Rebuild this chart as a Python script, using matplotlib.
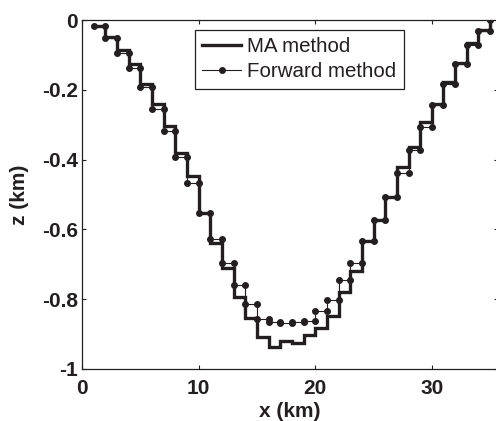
import numpy as np
import matplotlib
matplotlib.use("Agg")
import matplotlib.pyplot as plt

plt.rcParams['font.family'] = ['Liberation Sans', 'DejaVu Sans']
plt.rcParams['axes.unicode_minus'] = False

# prism left edges (km), each prism 1 km wide
prism_left = list(range(1, 35))
# depths (km)
z_forward = [-0.016, -0.052, -0.094, -0.138, -0.193, -0.254, -0.319, -0.392, -0.468,
             -0.552, -0.628, -0.697, -0.760, -0.813, -0.857, -0.864, -0.868, -0.866,
             -0.862, -0.835, -0.801, -0.746, -0.697, -0.633, -0.572, -0.506, -0.437,
             -0.372, -0.306, -0.244, -0.183, -0.127, -0.072, -0.031]
z_ma = [-0.016, -0.048, -0.086, -0.126, -0.183, -0.242, -0.303, -0.380, -0.446,
        -0.552, -0.638, -0.710, -0.793, -0.855, -0.908, -0.936, -0.921, -0.925,
        -0.904, -0.883, -0.848, -0.778, -0.720, -0.633, -0.573, -0.506, -0.420,
        -0.363, -0.291, -0.241, -0.177, -0.124, -0.067, -0.029]
end_x, end_z = 35, 0.0

xticks = [0, 10, 20, 30]
yticks = [0, -0.2, -0.4, -0.6, -0.8, -1]
ytick_labels = ['0', '-0.2', '-0.4', '-0.6', '-0.8', '-1']


def steps(left, z):
    left = np.asarray(left, float)
    xs = np.column_stack([left, left + 1]).ravel()
    zs = np.repeat(np.asarray(z, float), 2)
    xs = np.append(xs, end_x)
    zs = np.append(zs, end_z)
    return xs, zs


col = '#231f20'
fig = plt.figure(figsize=(4.96, 4.21), dpi=100)
ax = fig.add_axes([82 / 496, 52 / 421, (498.3 - 82) / 496, 349 / 421])

xm, zm = steps(prism_left, z_ma)
xf, zf = steps(prism_left, z_forward)
ax.plot(xm, zm, color=col, lw=2.4, solid_joinstyle='miter', label='MA method')
ax.plot(xf, zf, color=col, lw=0.8, marker='o', ms=4.0, label='Forward method')

ax.set_xlim(0, 35.7)
ax.set_ylim(-1, 0)
ax.set_xticks(xticks)
ax.set_xticklabels([str(t) for t in xticks])
ax.set_yticks(yticks)
ax.set_yticklabels(ytick_labels)
ax.tick_params(direction='in', top=True, right=True, length=3, width=0.8,
               labelsize=15, color=col, labelcolor=col)
ax.tick_params(axis='x', pad=7)
ax.tick_params(axis='y', pad=3)
for lab in ax.get_xticklabels() + ax.get_yticklabels():
    lab.set_fontweight('bold')
for s in ax.spines.values():
    s.set_linewidth(0.9)
    s.set_color(col)

ax.set_xlabel('x (km)', fontsize=15, fontweight='bold', color=col, labelpad=3)
ax.set_ylabel('z (km)', fontsize=15, fontweight='bold', color=col, labelpad=9)

leg = ax.legend(loc='upper left', bbox_to_anchor=(0.271, 0.971), borderaxespad=0,
                fontsize=14.8, handlelength=1.9, handletextpad=0.3, borderpad=0.35,
                labelspacing=0.3, fancybox=False, framealpha=1)
leg.get_frame().set_edgecolor(col)
leg.get_frame().set_linewidth(0.9)
for t in leg.get_texts():
    t.set_color(col)

fig.savefig('out.png', dpi=100)
